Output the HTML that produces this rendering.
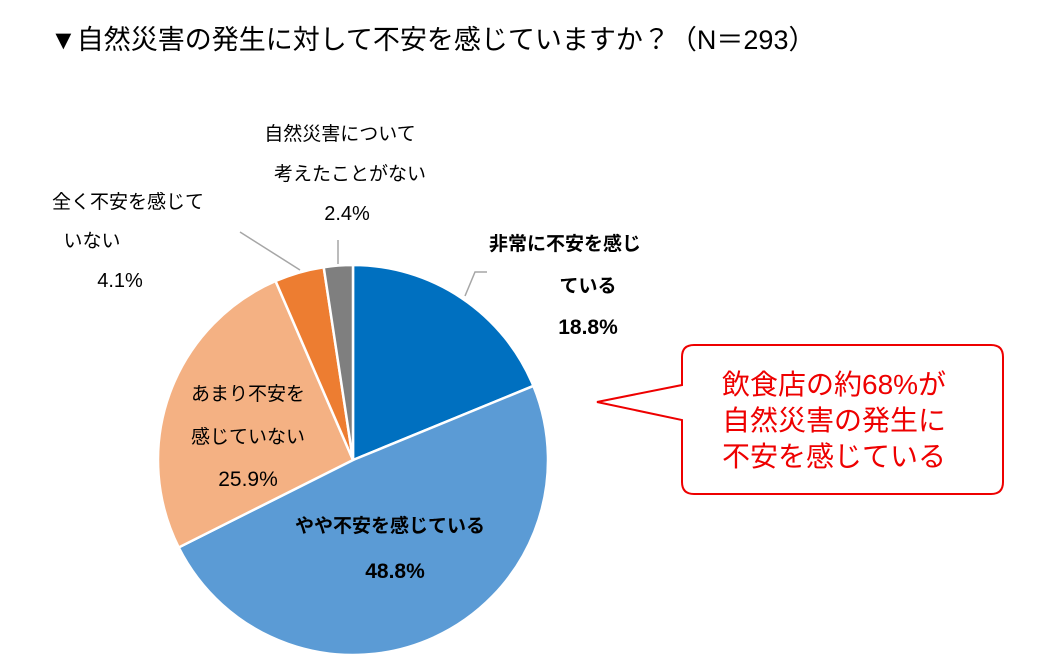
<!DOCTYPE html>
<html><head><meta charset="utf-8"><style>
body{margin:0;background:#fff;width:1038px;height:670px;overflow:hidden;font-family:"Liberation Sans","Noto Sans CJK JP",sans-serif;}
svg{position:absolute;left:0;top:0}
</style></head><body>
<svg width="1038" height="670">
<text x="50" y="49" font-size="27" fill="#000">▼自然災害の発生に対して不安を感じていますか？（N＝293）</text>
<g id="slices"></g>
<g font-size="19" fill="#000" text-anchor="middle">
<text x="565" y="250" font-weight="bold">非常に不安を感じ</text>
<text x="588" y="292" font-weight="bold">ている</text>
<text x="588" y="334" font-weight="bold" font-size="21">18.8%</text>
<text x="390" y="532" font-weight="bold">やや不安を感じている</text>
<text x="395" y="578" font-weight="bold" font-size="21">48.8%</text>
<text x="248" y="400">あまり不安を</text>
<text x="248" y="443">感じていない</text>
<text x="248" y="486" font-size="21">25.9%</text>
<text x="128" y="208">全く不安を感じて</text>
<text x="92" y="247">いない</text>
<text x="120" y="287" font-size="20">4.1%</text>
<text x="340" y="140">自然災害について</text>
<text x="350" y="180">考えたことがない</text>
<text x="347" y="220" font-size="20">2.4%</text>
</g>
<g stroke="#a6a6a6" stroke-width="1.5" fill="none">
<polyline points="465,296 475,272 487,272"/>
<polyline points="300,270 240,232"/>
<polyline points="338,264 338,240"/>
</g>
<g>
<path d="M694,345 H991 Q1003,345 1003,357 V482 Q1003,494 991,494 H694 Q682,494 682,482 V420 L597,402 L682,385 V357 Q682,345 694,345 Z" fill="#fff" stroke="#e00" stroke-width="2"/>
<g fill="#e00" font-size="28">
<text x="722" y="394">飲食店の約68%が</text>
<text x="722" y="430">自然災害の発生に</text>
<text x="722" y="466">不安を感じている</text>
</g></g>
</svg>
<script>
const categories=["非常に不安を感じている","やや不安を感じている","あまり不安を感じていない","全く不安を感じていない","自然災害について考えたことがない"];
const values=[18.8,48.8,25.9,4.1,2.4];
const colors=["#0070C0","#5B9BD5","#F4B183","#ED7D31","#7F7F7F"];
const cx=353,cy=460,r=195;
const g=document.getElementById('slices');
const total=values.reduce((a,b)=>a+b,0);
let a0=0;
values.forEach((v,i)=>{
 const a1=a0+v/total*2*Math.PI;
 const x0=cx+r*Math.sin(a0),y0=cy-r*Math.cos(a0),x1=cx+r*Math.sin(a1),y1=cy-r*Math.cos(a1);
 const p=document.createElementNS('http://www.w3.org/2000/svg','path');
 p.setAttribute('d',`M${cx},${cy} L${x0},${y0} A${r},${r} 0 ${a1-a0>Math.PI?1:0} 1 ${x1},${y1} Z`);
 p.setAttribute('fill',colors[i]);p.setAttribute('stroke','#fff');p.setAttribute('stroke-width','2.5');
 
 
 g.appendChild(p);a0=a1;
});
</script>
</body></html>
